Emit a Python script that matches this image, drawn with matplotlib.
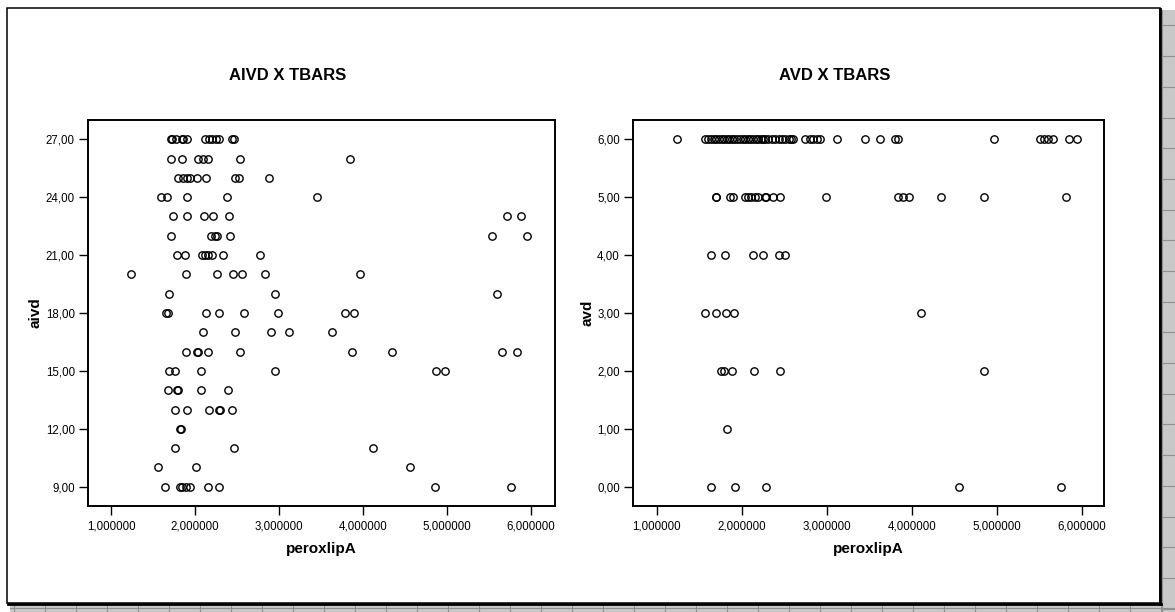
import matplotlib
matplotlib.use("Agg")
import matplotlib.pyplot as plt
from matplotlib.patches import Rectangle
from matplotlib.ticker import FuncFormatter

plt.rcParams['font.family'] = ['Liberation Sans', 'DejaVu Sans']

# AIVD x TBARS (peroxlipA, aivd), read row by row
perox_a = [1.71, 1.73, 1.77, 1.84, 1.86, 1.90, 2.12, 2.17, 2.20, 2.25, 2.29, 2.44, 2.46,
           1.71, 1.84, 2.04, 2.10, 2.16, 2.53, 3.85,
           1.80, 1.86, 1.90, 1.94, 2.02, 2.13, 2.48, 2.52, 2.88,
           1.59, 1.67, 1.90, 2.38, 3.45,
           1.74, 1.90, 2.11, 2.22, 2.41, 5.71, 5.88,
           1.72, 2.19, 2.24, 2.26, 2.42, 5.54, 5.95,
           1.78, 1.88, 2.08, 2.12, 2.16, 2.20, 2.33, 2.77,
           1.24, 1.89, 2.26, 2.45, 2.56, 2.83, 3.96,
           1.69, 2.95, 5.60,
           1.65, 1.68, 2.13, 2.28, 2.58, 2.99, 3.79, 3.89,
           2.10, 2.48, 2.90, 3.12, 3.63,
           1.89, 2.02, 2.04, 2.15, 2.53, 3.87, 4.35, 5.65, 5.83,
           1.69, 1.76, 2.07, 2.95, 4.87, 4.98,
           1.68, 1.78, 1.80, 2.07, 2.39,
           1.76, 1.91, 2.17, 2.28, 2.30, 2.44,
           1.82, 1.83,
           1.76, 2.46, 4.12,
           1.56, 2.01, 4.56,
           1.64, 1.82, 1.85, 1.89, 1.94, 2.15, 2.29, 4.86, 5.76]
aivd = ([27] * 13 + [26] * 7 + [25] * 9 + [24] * 5 + [23] * 7 + [22] * 7 + [21] * 8
        + [20] * 7 + [19] * 3 + [18] * 8 + [17] * 5 + [16] * 9 + [15] * 6 + [14] * 5
        + [13] * 6 + [12] * 2 + [11] * 3 + [10] * 3 + [9] * 9)

# AVD x TBARS (peroxlipA, avd)
perox_b = [1.24, 1.56, 1.60, 1.64, 1.67, 1.70, 1.73, 1.76, 1.79, 1.82, 1.85, 1.88, 1.91,
           1.94, 1.98, 2.01, 2.04, 2.07, 2.10, 2.13, 2.16, 2.19, 2.22, 2.25, 2.27, 2.31,
           2.35, 2.39, 2.43, 2.47, 2.51, 2.55, 2.58, 2.60, 2.74, 2.80, 2.84, 2.88, 2.92,
           3.12, 3.45, 3.62, 3.80, 3.83, 4.96, 5.51, 5.55, 5.60, 5.66, 5.85, 5.94,
           1.69, 1.70, 1.86, 1.89, 2.04, 2.07, 2.11, 2.15, 2.19, 2.27, 2.28, 2.37, 2.45,
           2.99, 3.84, 3.90, 3.96, 4.34, 4.85, 5.81,
           1.64, 1.80, 2.13, 2.25, 2.44, 2.51,
           1.56, 1.69, 1.81, 1.91, 4.11,
           1.75, 1.79, 1.88, 2.14, 2.45, 4.85,
           1.82,
           1.64, 1.92, 2.28, 4.55, 5.75]
avd = [6] * 51 + [5] * 20 + [4] * 6 + [3] * 5 + [2] * 6 + [1] * 1 + [0] * 5

x_ticks = [1, 2, 3, 4, 5, 6]
aivd_ticks = [9, 12, 15, 18, 21, 24, 27]
avd_ticks = [0, 1, 2, 3, 4, 5, 6]

W, H = 1175, 612
fig = plt.figure(figsize=(W / 100, H / 100), dpi=100)

# page background: gray sheet grid peeking out right and below the chart box
bg = fig.add_axes([0, 0, 1, 1], zorder=-5)
bg.set_xlim(0, W)
bg.set_ylim(H, 0)
bg.axis('off')
bg.add_patch(Rectangle((1160, 10), W - 1160, H - 10, fc='#c8c8c8', ec='none'))
bg.add_patch(Rectangle((10, 603), W - 10, H - 603, fc='#c8c8c8', ec='none'))
for gy in range(0, 24):
    yy = 25.4 + gy * 30.7
    if yy > 10:
        bg.plot([1162, W], [yy, yy], color='#909090', lw=0.8)
for gx in range(0, 40):
    xx = 14 + gx * 31
    bg.plot([xx, xx], [605, H], color='#909090', lw=0.8)
bg.plot([1162, 1162], [10, H], color='#909090', lw=0.8)
bg.plot([10, W], [608, 608], color='#909090', lw=0.8)
bg.add_patch(Rectangle((7, 8), 1153, 595, fc='white', ec='black', lw=1.1))
bg.plot([1160, 1160], [9, 604], color='black', lw=2.0)
bg.plot([8, 1161], [603.5, 603.5], color='black', lw=2.0)


def fmt_x(v, pos):
    return ('%.6f' % v).replace('.', ',')


def fmt_y(v, pos):
    return ('%.2f' % v).replace('.', ',')


def draw_panel(rect, xs, ys, yticks, ylim, xlim, ylabel, title, title_x):
    ax = fig.add_axes(rect)
    ax.plot(xs, ys, 'o', mfc='none', mec='black', ms=5.3, mew=1.0, ls='none')
    ax.set_xlim(*xlim)
    ax.set_ylim(*ylim)
    ax.set_xticks(x_ticks)
    ax.set_yticks(yticks)
    ax.xaxis.set_major_formatter(FuncFormatter(fmt_x))
    ax.yaxis.set_major_formatter(FuncFormatter(fmt_y))
    ax.tick_params(direction='out', length=6.5, width=1.0, labelsize=8.3, pad=3)
    ax.tick_params(axis='x', pad=4)
    for s in ax.spines.values():
        s.set_linewidth(1.4)
    ax.set_xlabel('peroxlipA', fontsize=11, fontweight='bold', labelpad=7)
    ax.set_ylabel(ylabel, fontsize=11, fontweight='bold', labelpad=2)
    fig.text(title_x / W, 1 - 75 / H, title, fontsize=12, fontweight='bold',
             ha='center', va='center')
    return ax


top, bottom = 120, 506
draw_panel([88 / W, 1 - bottom / H, (555 - 88) / W, (bottom - top) / H],
           perox_a, aivd, aivd_ticks, (8.0, 28.0), (0.726, 6.286), 'aivd',
           'AIVD X TBARS', 288)
draw_panel([633 / W, 1 - bottom / H, (1104 - 633) / W, (bottom - top) / H],
           perox_b, avd, avd_ticks, (-0.33, 6.33), (0.718, 6.259), 'avd',
           'AVD X TBARS', 835)

fig.savefig('out.png', dpi=100)
